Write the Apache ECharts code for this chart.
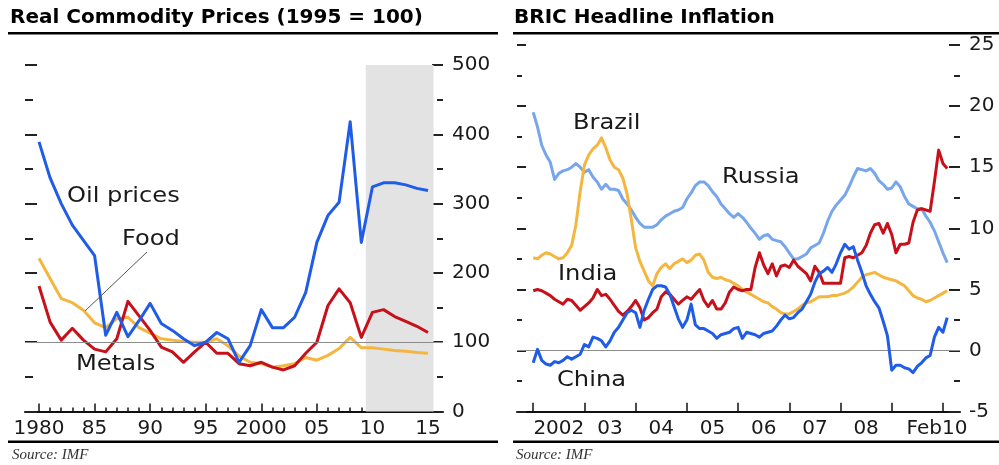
<!DOCTYPE html>
<html>
<head>
<meta charset="utf-8">
<script src="https://cdn.jsdelivr.net/npm/echarts@6/dist/echarts.min.js"></script>
<style>
html, body { margin: 0; padding: 0; background: #fff; }
#chart { width: 999px; height: 465px; }
</style>
</head>
<body>
<div id="chart"></div>
<script>
// ---- Real commodity prices, annual, 1995 = 100 ----
const years = [1980, 1981, 1982, 1983, 1984, 1985, 1986, 1987, 1988, 1989,
  1990, 1991, 1992, 1993, 1994, 1995, 1996, 1997, 1998, 1999,
  2000, 2001, 2002, 2003, 2004, 2005, 2006, 2007, 2008, 2009,
  2010, 2011, 2012, 2013, 2014, 2015];
const oilPrices = [389, 337, 300, 269, 247, 225, 110, 143, 108, 131,
  156, 127, 117, 105, 95, 100, 114, 105, 71, 95,
  147, 121, 121, 136, 172, 244, 283, 302, 418, 244,
  324, 330, 330, 327, 322, 319];
const food = [221, 192, 163, 157, 146, 128, 121, 134, 136, 121,
  113, 105, 103, 101, 100, 100, 105, 95, 80, 71,
  69, 64, 66, 69, 78, 74, 81, 91, 107, 92,
  92, 90, 88, 87, 85, 84];
const metals = [181, 129, 103, 120, 103, 90, 86, 105, 159, 138,
  117, 93, 86, 71, 86, 100, 84, 84, 69, 66,
  71, 64, 60, 66, 84, 100, 153, 177, 157, 107,
  143, 147, 137, 130, 123, 114];
const forecastStart = 2009.4;
const forecastEnd = 2015.5;
const commodityTickYears = [1980, 1985, 1990, 1995, 2000, 2005, 2010, 2015];
const commodityTickLabels = ['1980', '85', '90', '95', '2000', '05', '10', '15'];

// ---- BRIC headline inflation, % y/y, monthly from Jan 2002 to Feb 2010 ----
const russia = [19.5, 18.3, 16.8, 16.0, 15.4, 14.0, 14.5, 14.7, 14.8, 15.0,
  15.3, 15.0, 14.6, 14.8, 14.2, 13.8, 13.2, 13.6, 13.2, 13.2,
  13.1, 12.4, 12.0, 11.5, 10.9, 10.4, 10.1, 10.1, 10.1, 10.3,
  10.7, 11.0, 11.2, 11.4, 11.5, 11.7, 12.4, 12.9, 13.5, 13.8,
  13.8, 13.5, 13.0, 12.6, 12.0, 11.6, 11.2, 10.9, 11.2, 10.9,
  10.5, 10.0, 9.6, 9.1, 9.4, 9.5, 9.1, 9.0, 8.9, 8.5,
  8.0, 7.5, 7.5, 7.7, 7.9, 8.4, 8.6, 8.8, 9.6, 10.6,
  11.4, 11.9, 12.3, 12.7, 13.4, 14.2, 14.9, 14.8, 14.7, 14.9,
  14.5, 13.9, 13.6, 13.2, 13.3, 13.8, 13.4, 12.6, 12.0, 11.8,
  11.6, 11.6, 11.0, 10.5, 9.8, 8.9, 8.0, 7.2];
const brazil = [7.6, 7.5, 7.8, 8.0, 7.9, 7.7, 7.5, 7.6, 8.0, 8.6,
  10.3, 13.0, 15.2, 16.0, 16.5, 16.8, 17.4, 16.6, 15.6, 15.0,
  14.8, 14.1, 12.8, 10.7, 8.4, 7.3, 6.5, 5.7, 5.3, 6.3,
  6.8, 7.1, 6.7, 7.1, 7.3, 7.5, 7.2, 7.4, 7.8, 7.9,
  7.4, 6.4, 6.0, 5.9, 6.0, 5.8, 5.7, 5.5, 5.3, 5.0,
  4.8, 4.6, 4.4, 4.2, 4.0, 3.9, 3.6, 3.4, 3.1, 3.0,
  3.0, 3.2, 3.4, 3.7, 3.9, 4.0, 4.2, 4.4, 4.4, 4.4,
  4.5, 4.5, 4.6, 4.7, 4.9, 5.2, 5.6, 6.0, 6.2, 6.3,
  6.4, 6.2, 6.0, 5.9, 5.8, 5.7, 5.5, 5.3, 4.9, 4.5,
  4.3, 4.2, 4.0, 4.1, 4.3, 4.5, 4.7, 4.9];
const india = [4.9, 5.0, 4.9, 4.7, 4.5, 4.2, 4.0, 3.8, 4.2, 4.1,
  3.7, 3.3, 3.6, 3.9, 4.3, 5.0, 4.5, 4.6, 4.2, 3.7,
  3.2, 2.9, 3.2, 3.6, 4.1, 3.5, 2.5, 2.7, 3.1, 3.4,
  4.4, 4.8, 4.6, 4.2, 3.8, 4.1, 4.4, 4.2, 4.6, 5.0,
  4.1, 3.6, 4.1, 3.4, 3.4, 3.9, 4.8, 5.2, 5.0, 4.9,
  5.0, 5.0, 6.8, 8.0, 7.0, 6.3, 7.1, 6.1, 6.9, 7.0,
  6.8, 7.4, 6.9, 6.6, 6.3, 5.7, 6.9, 6.4, 5.5, 5.5,
  5.5, 5.5, 5.5, 7.6, 7.7, 7.6, 7.8, 8.0, 8.6, 9.6,
  10.3, 10.4, 9.6, 10.4, 9.5, 8.0, 8.7, 8.7, 8.8, 10.5,
  11.5, 11.6, 11.5, 11.4, 13.8, 16.4, 15.3, 14.9];
const china = [-1.0, 0.1, -0.8, -1.1, -1.2, -0.9, -1.0, -0.8, -0.5, -0.7,
  -0.5, -0.3, 0.5, 0.3, 1.1, 1.0, 0.8, 0.3, 0.8, 1.5,
  1.9, 2.5, 3.1, 3.3, 3.1, 1.9, 3.3, 4.2, 5.0, 5.3,
  5.3, 5.2, 4.6, 3.6, 2.6, 1.9, 2.5, 3.8, 2.1, 1.8,
  1.8, 1.6, 1.4, 1.0, 1.3, 1.4, 1.5, 1.8, 1.9, 1.0,
  1.5, 1.4, 1.3, 1.1, 1.4, 1.5, 1.6, 2.0, 2.5, 2.9,
  2.6, 2.7, 3.1, 3.4, 4.0, 4.6, 5.6, 6.3, 6.5, 6.8,
  6.4, 7.1, 8.0, 8.7, 8.3, 8.5, 7.4, 6.4, 5.3, 4.6,
  4.0, 3.5, 2.4, 1.2, -1.6, -1.2, -1.2, -1.4, -1.5, -1.8,
  -1.3, -1.0, -0.6, -0.4, 1.1, 1.9, 1.5, 2.7];
// months counted from Jan 2002 (= 0)
const yearStartMonths = [0, 12, 24, 36, 48, 60, 72, 84, 96];
const inflationLabelMonths = [6, 18, 30, 42, 54, 66, 78, 94.6];
const inflationLabels = ['2002', '03', '04', '05', '06', '07', '08', 'Feb10'];

const FONT = 'DejaVu Sans';
const INK = '#1a1a1a';
const BLUE = '#1f5ce8';
const LIGHT_BLUE = '#78a6ec';
const ORANGE = '#f4b63f';
const RED = '#c8101a';

function labelFor(values, texts) {
  return function (v) {
    let best = 0;
    for (let i = 1; i < values.length; i++) {
      if (Math.abs(values[i] - v) < Math.abs(values[best] - v)) best = i;
    }
    return texts[best];
  };
}

const axisLabelStyle = { fontFamily: FONT, fontSize: 20, color: INK };
const tickStyle = { color: '#222', width: 2 };

function yearly(vals) { return years.map((y, i) => [y, vals[i]]); }
function monthly(vals) { return vals.map((v, i) => [i, v]); }

const lineSeries = (name, data, color, xi, yi, z) => ({
  name, type: 'line', data, xAxisIndex: xi, yAxisIndex: yi,
  symbol: 'none', smooth: false, z, silent: true,
  lineStyle: { color, width: 3, join: 'round' }
});

const chart = echarts.init(document.getElementById('chart'), null, { renderer: 'canvas' });

const option = {
  animation: false,
  backgroundColor: '#fff',
  grid: [
    { left: 25, top: 65, width: 418, height: 346.5, outerBoundsMode: 'none', containLabel: false },
    { left: 517, top: 45, width: 443, height: 366.7, outerBoundsMode: 'none', containLabel: false }
  ],
  xAxis: [
    {
      gridIndex: 0, type: 'value', min: 1978.74, max: 2016.35, position: 'bottom',
      axisLine: { onZero: false, lineStyle: { color: '#111', width: 2 } },
      axisTick: { inside: true, length: 4, customValues: years, lineStyle: { color: '#111', width: 1.5 } },
      axisLabel: Object.assign({ customValues: commodityTickYears, margin: 7,
        formatter: labelFor(commodityTickYears, commodityTickLabels) }, axisLabelStyle),
      splitLine: { show: false }
    },
    {
      gridIndex: 0, type: 'value', min: 1978.74, max: 2016.35, position: 'bottom',
      axisLine: { show: false, onZero: false },
      axisTick: { inside: true, length: 8, customValues: commodityTickYears, lineStyle: { color: '#111', width: 1.5 } },
      axisLabel: { show: false },
      splitLine: { show: false }
    },
    {
      gridIndex: 1, type: 'value', min: -3.8, max: 100, position: 'bottom',
      axisLine: { onZero: false, lineStyle: { color: '#111', width: 2 } },
      axisTick: { inside: true, length: 9, customValues: yearStartMonths, lineStyle: { color: '#111', width: 1.5 } },
      axisLabel: Object.assign({ customValues: inflationLabelMonths, margin: 7,
        formatter: labelFor(inflationLabelMonths, inflationLabels) }, axisLabelStyle),
      splitLine: { show: false }
    }
  ],
  yAxis: [
    {
      gridIndex: 0, type: 'value', min: 0, max: 500, interval: 100, position: 'right',
      axisLine: { show: false, onZero: false },
      axisTick: { show: true, inside: true, length: 11, lineStyle: tickStyle },
      minorTick: { show: true, splitNumber: 2, length: 6, lineStyle: tickStyle },
      axisLabel: Object.assign({ margin: 9 }, axisLabelStyle),
      splitLine: { show: false }
    },
    {
      gridIndex: 0, type: 'value', min: 0, max: 500, interval: 100, position: 'left',
      axisLine: { show: false, onZero: false },
      axisTick: { show: true, inside: true, length: 12, lineStyle: tickStyle },
      minorTick: { show: true, splitNumber: 2, length: 8, lineStyle: tickStyle },
      axisLabel: { show: false },
      splitLine: { show: false }
    },
    {
      gridIndex: 1, type: 'value', min: -5, max: 25, interval: 5, position: 'right',
      axisLine: { show: false, onZero: false },
      axisTick: { show: true, inside: true, length: 11, lineStyle: tickStyle },
      minorTick: { show: true, splitNumber: 2, length: 6, lineStyle: tickStyle },
      axisLabel: Object.assign({ margin: 9 }, axisLabelStyle),
      splitLine: { show: false }
    },
    {
      gridIndex: 1, type: 'value', min: -5, max: 25, interval: 5, position: 'left',
      axisLine: { show: false, onZero: false },
      axisTick: { show: true, inside: true, length: 9, lineStyle: tickStyle },
      minorTick: { show: true, splitNumber: 2, length: 5, lineStyle: tickStyle },
      axisLabel: { show: false },
      splitLine: { show: false }
    }
  ],
  series: [
    // forecast shading and 1995 = 100 reference
    {
      type: 'line', data: [], xAxisIndex: 0, yAxisIndex: 0, z: 1, silent: true,
      markArea: {
        silent: true,
        itemStyle: { color: '#e3e3e3' },
        data: [[{ xAxis: forecastStart }, { xAxis: forecastEnd }]]
      },
      markLine: {
        silent: true, symbol: 'none', label: { show: false },
        lineStyle: { color: '#8c8c8c', width: 1.2, type: 'solid' },
        data: [{ yAxis: 100 }]
      }
    },
    lineSeries('Food', yearly(food), ORANGE, 0, 0, 3),
    lineSeries('Metals', yearly(metals), RED, 0, 0, 4),
    lineSeries('Oil prices', yearly(oilPrices), BLUE, 0, 0, 5),
    // zero reference
    {
      type: 'line', data: [], xAxisIndex: 2, yAxisIndex: 2, z: 1, silent: true,
      markLine: {
        silent: true, symbol: 'none', label: { show: false },
        lineStyle: { color: '#8c8c8c', width: 1.2, type: 'solid' },
        data: [{ yAxis: 0 }]
      }
    },
    lineSeries('Russia', monthly(russia), LIGHT_BLUE, 2, 2, 3),
    lineSeries('Brazil', monthly(brazil), ORANGE, 2, 2, 4),
    lineSeries('India', monthly(india), RED, 2, 2, 5),
    lineSeries('China', monthly(china), BLUE, 2, 2, 6)
  ],
  graphic: [
    { type: 'text', x: 10, y: 18, style: { text: 'Real Commodity Prices (1995 = 100)', font: 'bold 20px "DejaVu Sans"', fill: '#000', verticalAlign: 'middle' } },
    { type: 'text', x: 514, y: 18, style: { text: 'BRIC Headline Inflation', font: 'bold 20px "DejaVu Sans"', fill: '#000', verticalAlign: 'middle' } },
    { type: 'rect', shape: { x: 8, y: 32, width: 490, height: 2.5 }, style: { fill: '#000' } },
    { type: 'rect', shape: { x: 513, y: 32, width: 486, height: 2.5 }, style: { fill: '#000' } },
    { type: 'rect', shape: { x: 8, y: 440.5, width: 490, height: 2.5 }, style: { fill: '#000' } },
    { type: 'rect', shape: { x: 513, y: 440.5, width: 486, height: 2.5 }, style: { fill: '#000' } },
    { type: 'text', x: 12, y: 455, style: { text: 'Source: IMF', font: 'italic 15px "Liberation Serif"', fill: '#333', verticalAlign: 'middle' } },
    { type: 'text', x: 516, y: 455, style: { text: 'Source: IMF', font: 'italic 15px "Liberation Serif"', fill: '#333', verticalAlign: 'middle' } },
    // series names
    { type: 'text', x: 67, y: 197, scaleX: 1.15, z: 10, style: { text: 'Oil prices', font: '21px "DejaVu Sans"', fill: INK, verticalAlign: 'middle' } },
    { type: 'text', x: 122, y: 240, scaleX: 1.15, z: 10, style: { text: 'Food', font: '21px "DejaVu Sans"', fill: INK, verticalAlign: 'middle' } },
    { type: 'text', x: 76, y: 365, scaleX: 1.15, z: 10, style: { text: 'Metals', font: '21px "DejaVu Sans"', fill: INK, verticalAlign: 'middle' } },
    { type: 'line', z: 10, shape: { x1: 147, y1: 252, x2: 85, y2: 311 }, style: { stroke: '#555', lineWidth: 1 } },
    { type: 'text', x: 573, y: 124, scaleX: 1.15, z: 10, style: { text: 'Brazil', font: '21px "DejaVu Sans"', fill: INK, verticalAlign: 'middle' } },
    { type: 'text', x: 722, y: 178, scaleX: 1.15, z: 10, style: { text: 'Russia', font: '21px "DejaVu Sans"', fill: INK, verticalAlign: 'middle' } },
    { type: 'text', x: 558, y: 275, scaleX: 1.15, z: 10, style: { text: 'India', font: '21px "DejaVu Sans"', fill: INK, verticalAlign: 'middle' } },
    { type: 'text', x: 557, y: 381, scaleX: 1.15, z: 10, style: { text: 'China', font: '21px "DejaVu Sans"', fill: INK, verticalAlign: 'middle' } }
  ]
};

chart.setOption(option);
</script>
</body>
</html>
